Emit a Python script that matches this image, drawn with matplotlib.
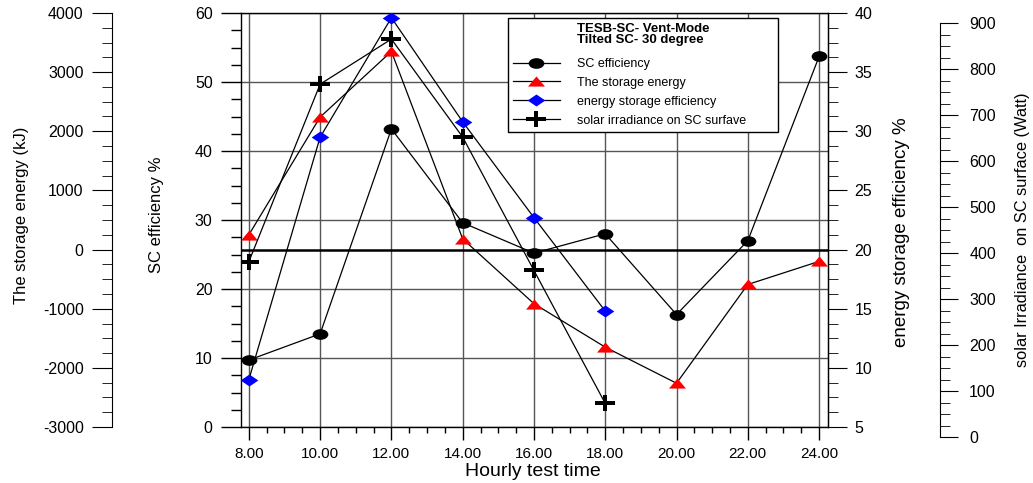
import matplotlib
matplotlib.use("Agg")
import matplotlib.pyplot as plt
from matplotlib.path import Path
from matplotlib.transforms import Affine2D
from matplotlib.ticker import MultipleLocator, FormatStrFormatter

# hourly readings
hours = [8, 10, 12, 14, 16, 18, 20, 22, 24]
sc_eff = [9.7, 13.5, 43.2, 29.6, 25.2, 28.0, 16.3, 27.0, 53.7]
storage_energy = [250, 2240, 3350, 180, -915, -1650, -2260, -590, -200]
eff_hours = [8, 10, 12, 14, 16, 18]
storage_eff = [9.0, 29.5, 39.6, 30.8, 22.7, 14.8]
irr_hours = [8, 10, 12, 14, 16, 18]
irradiance = [381, 767, 865, 652, 362, 73]

plt.rcParams['font.family'] = ['Liberation Sans', 'DejaVu Sans']
plt.rcParams['axes.unicode_minus'] = False

W, H = 1033, 483

# flattened marker shapes
ellipse = Path.unit_circle().transformed(Affine2D().scale(1, 0.68))
diamond = Path([(-1, 0), (0, 0.68), (1, 0), (0, -0.68), (-1, 0)], closed=True)
tri = Path([(-1, -0.6), (1, -0.6), (0, 0.6), (-1, -0.6)], closed=True)
t, h = 0.2, 0.78
plus = Path([(-1, -t), (-t, -t), (-t, -h), (t, -h), (t, -t), (1, -t), (1, t),
             (t, t), (t, h), (-t, h), (-t, t), (-1, t), (-1, -t)], closed=True)

fig = plt.figure(figsize=(W / 100, H / 100), dpi=100)
ax = fig.add_axes([241 / W, 56 / H, 587 / W, 414 / H])

# SC efficiency (main axis)
l1, = ax.plot(hours, sc_eff, color='black', lw=0.9, marker=ellipse,
              markersize=11.3, markerfacecolor='black', markeredgewidth=0,
              label='SC efficiency', zorder=3)
ax.set_xlim(7.78, 24.25)
ax.set_ylim(0, 60)
ax.xaxis.set_major_locator(MultipleLocator(2))
ax.xaxis.set_minor_locator(MultipleLocator(0.5))
ax.xaxis.set_major_formatter(FormatStrFormatter('%.2f'))
ax.yaxis.set_major_locator(MultipleLocator(10))
ax.yaxis.set_minor_locator(MultipleLocator(2.5))
ax.grid(True, which='major', color='#555555', lw=1)
ax.tick_params(axis='x', which='major', direction='out', length=9.4, pad=5,
               labelsize=11, width=1)
ax.tick_params(axis='x', which='minor', direction='out', length=4.3, width=1)
ax.tick_params(axis='y', which='major', direction='out', length=14.4, pad=6,
               labelsize=11.5, right=False, width=1)
ax.tick_params(axis='y', which='minor', direction='out', length=7.2, right=False, width=1)
for s in ax.spines.values():
    s.set_linewidth(1)

# storage energy, offset axis on the left
ax_e = ax.twinx()
ax_e.set_ylim(-3000, 4000)
ax_e.yaxis.tick_left()
ax_e.spines['left'].set_position(('axes', (112 - 241) / 587))
ax_e.spines['left'].set_visible(True)
for k in ['right', 'top', 'bottom']:
    ax_e.spines[k].set_visible(False)
ax_e.yaxis.set_major_locator(MultipleLocator(1000))
ax_e.yaxis.set_minor_locator(MultipleLocator(250))
ax_e.tick_params(axis='y', which='major', length=14.4, pad=6, labelsize=11.5)
ax_e.tick_params(axis='y', which='minor', length=7.2)
ax_e.axhline(0, color='black', lw=1.8, zorder=1)
l2, = ax_e.plot(hours, storage_energy, color='black', lw=0.9, marker=tri,
                markersize=12.2, markerfacecolor='red', markeredgewidth=0,
                label='The storage energy', zorder=3)

# energy storage efficiency on the right
ax_s = ax.twinx()
ax_s.set_ylim(5, 40)
for k in ['left', 'top', 'bottom']:
    ax_s.spines[k].set_visible(False)
ax_s.yaxis.set_major_locator(MultipleLocator(5))
ax_s.yaxis.set_minor_locator(MultipleLocator(1.25))
ax_s.tick_params(axis='y', which='major', length=14, pad=5, labelsize=11.5)
ax_s.tick_params(axis='y', which='minor', length=7)
l3, = ax_s.plot(eff_hours, storage_eff, color='black', lw=0.9, marker=diamond,
                markersize=12.7, markerfacecolor='blue', markeredgewidth=0,
                label='energy storage efficiency', zorder=3)

# solar irradiance: data axis shifted to line up with its own scale bar
ax_i = ax.twinx()
px = 414 / 900
ax_i.set_ylim(10 / px, 900 + 10 / px)
ax_i.axis('off')
l4, = ax_i.plot(irr_hours, irradiance, color='black', lw=0.9, marker=plus,
                markersize=14.4, markerfacecolor='black', markeredgewidth=0,
                label='solar irradiance on SC surfave', zorder=3)

ax_w = fig.add_axes([930 / W, 46 / H, 10 / W, 414 / H])
ax_w.patch.set_visible(False)
ax_w.set_ylim(0, 900)
ax_w.xaxis.set_visible(False)
ax_w.yaxis.tick_right()
for k in ['left', 'top', 'bottom']:
    ax_w.spines[k].set_visible(False)
ax_w.yaxis.set_major_locator(MultipleLocator(100))
ax_w.yaxis.set_minor_locator(MultipleLocator(25))
ax_w.tick_params(axis='y', which='major', length=13, pad=8, labelsize=11.5)
ax_w.tick_params(axis='y', which='minor', length=7)

# axis titles
fig.text(22 / W, 1 - 215 / H, 'The storage energy (kJ)', rotation=90,
         ha='center', va='center', fontsize=12)
fig.text(157 / W, 1 - 215 / H, 'SC efficiency %', rotation=90,
         ha='center', va='center', fontsize=12)
fig.text(901 / W, 1 - 232 / H, 'energy storage efficiency %', rotation=90,
         ha='center', va='center', fontsize=13.5)
fig.text(1022 / W, 1 - 230 / H, 'solar Irradiance  on SC surface (Watt)', rotation=90,
         ha='center', va='center', fontsize=11.8)
fig.text(533 / W, 1 - 471 / H, 'Hourly test time', ha='center', va='center',
         fontsize=14)

leg = ax_i.legend([l1, l2, l3, l4], [l.get_label() for l in [l1, l2, l3, l4]],
                  title='TESB-SC- Vent-Mode\nTilted SC- 30 degree',
                  title_fontproperties={'weight': 'bold', 'size': 9.5},
                  loc='upper left', bbox_to_anchor=(508 / W, 1 - 18 / H, 270 / W, 0),
                  bbox_transform=fig.transFigure, mode='expand', fontsize=9,
                  fancybox=False, edgecolor='black', framealpha=1,
                  borderpad=0.4, handlelength=3.75, handletextpad=1.4,
                  labelspacing=0.55, borderaxespad=0)
leg.get_title().set_linespacing(0.9)
leg._legend_box.sep = 8.5  # extra room under the two-line title
leg.get_frame().set_linewidth(1)

fig.savefig('out.png', dpi=100)
